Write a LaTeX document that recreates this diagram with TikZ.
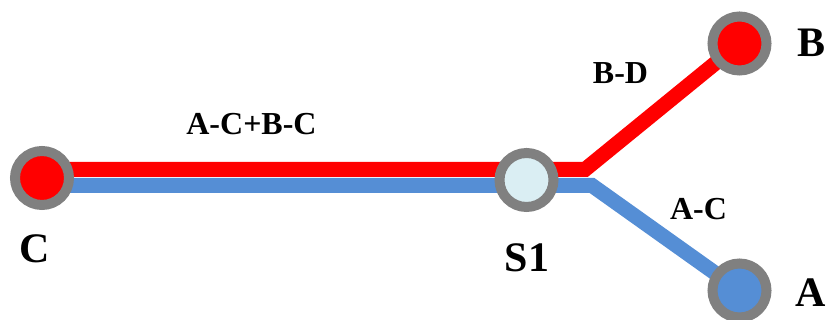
\documentclass[tikz,border=0pt]{standalone}
\usepackage{fontspec}
\setmainfont{Liberation Serif}
\usetikzlibrary{backgrounds}
\definecolor{ringgray}{RGB}{128,128,128}
\definecolor{routered}{RGB}{255,0,0}
\definecolor{routeblue}{RGB}{85,142,213}
\definecolor{hubfill}{RGB}{218,238,243}
\tikzset{
  station/.style={circle, draw=ringgray, line width=10pt, minimum size=54pt, inner sep=0pt},
  route/.style={line width=15pt, line join=miter, line cap=butt},
  bigname/.style={inner sep=0pt, font=\bfseries\fontsize{42}{48}\selectfont},
  flowname/.style={inner sep=0pt, font=\bfseries\fontsize{32}{38}\selectfont},
}
\begin{document}
\begin{tikzpicture}[x=1pt, y=-1pt]
  \useasboundingbox (0,0) rectangle (827,320);
  % stations
  \node[station, fill=routered]  (C)  at (42,178)    {};
  \node[station, fill=hubfill]   (S1) at (526.5,180) {};
  \node[station, fill=routered]  (B)  at (739.5,43.5) {};
  \node[station, fill=routeblue] (A)  at (739.5,290.5) {};
  % bends where the two routes split
  \coordinate (redbend)  at (585,169.5);
  \coordinate (bluebend) at (592,185.5);
  % routes under the stations
  \begin{scope}[on background layer]
    \draw[route, routered]  ([yshift=8.5pt]C.center) -- (redbend) -- (B.center);
    \draw[route, routeblue] ([yshift=-7.5pt]C.center) -- (bluebend) -- (A.center);
  \end{scope}
  % station names
  \node[bigname] (lC)  at (35,249)  {C};
  \node[bigname] (lS1) at (527,258) {S1};
  \node[bigname] (lB)  at (811,42.5) {B};
  \node[bigname] (lA)  at (811,293) {A};
  % flow labels
  \node[flowname] (fCB) at (251.5,124) {A-C+B-C};
  \node[flowname] (fBD) at (620.5,73.5) {B-D};
  \node[flowname] (fAC) at (698.5,209) {A-C};
\end{tikzpicture}
\end{document}
